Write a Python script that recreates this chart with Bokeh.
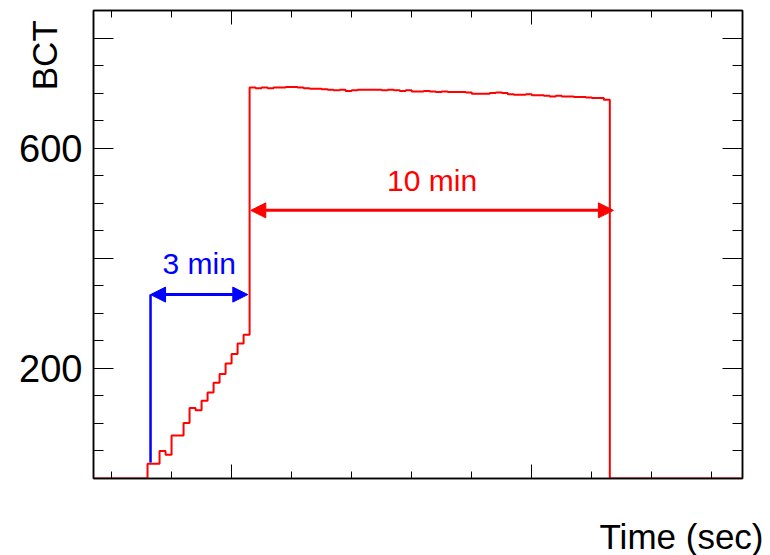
import math

from bokeh.plotting import figure
from bokeh.models import (LinearAxis, FixedTicker, Range1d, Label, Arrow,
                          NormalHead)
from bokeh.embed import file_html
from bokeh.resources import INLINE

# Beam current transformer reading, 10 s bins
bin_width = 10
bin_start = 270
bct_values = (
    [0] * 9
    # injection ramp
    + [27, 27, 50, 43, 78, 78, 101, 128, 124, 141, 156, 174, 190, 209, 226,
       245, 261]
    # stored beam (10 min)
    + [710, 709, 710, 709, 710, 710, 711, 711, 710, 709,
       708, 708, 707, 706, 705, 706, 704, 705, 706, 706,
       706, 706, 705, 706, 705, 704, 705, 703, 703, 704,
       703, 702, 703, 702, 702, 702, 701, 699, 699, 699,
       700, 701, 700, 698, 697, 697, 698, 696, 696, 695,
       694, 695, 694, 694, 693, 693, 692, 691, 691, 688]
    + [0] * 23
)
bin_edges = [bin_start + bin_width * i for i in range(len(bct_values) + 1)]

x_major = [500, 1000]
x_minor = [300, 400, 600, 700, 800, 900, 1100, 1200, 1300]
y_major = [0, 200, 400, 600, 800]
y_minor = [50, 100, 150, 250, 300, 350, 450, 500, 550, 650, 700, 750, 850]
y_labels = {0: "", 200: "200", 400: "", 600: "600", 800: ""}

# annotation markers: injection start / end, beam dump
inj_start, inj_end, dump = 365, 527, 1136
inj_arrow_y, inj_line_bottom = 334, 29
store_start, store_arrow_y = 532, 487

FONT = "Liberation Sans"
NBSP = "\u00a0"

p = figure(width=770, height=555, output_backend="svg", toolbar_location=None,
           x_range=Range1d(270, 1351), y_range=Range1d(0, 850),
           x_axis_type=None, y_axis_type=None,
           min_border_left=93, min_border_right=28,
           min_border_top=10, min_border_bottom=77)
p.grid.visible = False
p.outline_line_color = "black"
p.outline_line_width = 1.5
p.background_fill_color = "white"
p.border_fill_color = "white"


def make_axis(ticks, minors, show_labels):
    ax = LinearAxis(ticker=FixedTicker(ticks=ticks, minor_ticks=minors))
    ax.axis_line_color = "black"
    ax.axis_line_width = 1.5
    ax.major_tick_line_color = "black"
    ax.minor_tick_line_color = "black"
    ax.major_tick_out = 0
    ax.minor_tick_out = 0
    if show_labels:
        ax.major_label_text_font = FONT
        ax.major_label_text_font_size = "38px"
        ax.major_label_text_color = "black"
        ax.major_label_standoff = 11
        ax.major_label_overrides = y_labels
    else:
        ax.major_label_text_font_size = "0px"
        ax.major_label_standoff = 0
        ax.major_label_overrides = {t: "" for t in ticks}
    return ax


for side in ("below", "above"):
    ax = make_axis(x_major, x_minor, False)
    ax.major_tick_in = 14
    ax.minor_tick_in = 7
    p.add_layout(ax, side)

for side, labelled in (("left", True), ("right", False)):
    ax = make_axis(y_major, y_minor, labelled)
    ax.major_tick_in = 20
    ax.minor_tick_in = 10
    if labelled:
        # ROOT-style title hanging down from the top end of the axis,
        # tucked in beside the tick labels
        ax.axis_label = "BCT" + NBSP
        ax.axis_label_text_font = FONT
        ax.axis_label_text_font_size = "35px"
        ax.axis_label_text_font_style = "normal"
        ax.axis_label_text_color = "black"
        ax.axis_label_orientation = math.pi / 2
        ax.axis_label_standoff = -28
        ax.axis_label_align = "end"
    p.add_layout(ax, side)

# histogram outline
p.step(x=bin_edges, y=bct_values + [0], mode="after",
       line_color="#ff0000", line_width=2)

# injection duration
p.segment(x0=[inj_start], y0=[inj_line_bottom], x1=[inj_start],
          y1=[inj_arrow_y], line_color="#0000ff", line_width=2.5)
p.add_layout(Arrow(
    start=NormalHead(size=15, fill_color="#0000ff", line_color="#0000ff"),
    end=NormalHead(size=15, fill_color="#0000ff", line_color="#0000ff"),
    x_start=inj_start, y_start=inj_arrow_y, x_end=inj_end, y_end=inj_arrow_y,
    line_color="#0000ff", line_width=3))
p.add_layout(Label(x=(inj_start + inj_end) / 2, y=390, text="3 min",
                   text_font=FONT, text_font_size="30px",
                   text_color="#0000ff", text_align="center",
                   text_baseline="alphabetic"))

# storage duration
p.add_layout(Arrow(
    start=NormalHead(size=15, fill_color="#ff0000", line_color="#ff0000"),
    end=NormalHead(size=15, fill_color="#ff0000", line_color="#ff0000"),
    x_start=store_start, y_start=store_arrow_y, x_end=dump,
    y_end=store_arrow_y, line_color="#ff0000", line_width=3))
p.add_layout(Label(x=(store_start + dump) / 2, y=541, text="10 min",
                   text_font=FONT, text_font_size="30px",
                   text_color="#ff0000", text_align="center",
                   text_baseline="alphabetic"))

# x-axis title, right-aligned past the frame end
p.add_layout(Label(x=670, y=-19, x_units="screen", y_units="screen",
                   text="Time (sec)", text_font=FONT, text_font_size="35px",
                   text_color="black", text_align="right",
                   text_baseline="alphabetic"), "below")

open("out.html", "w").write(file_html(p, INLINE))
